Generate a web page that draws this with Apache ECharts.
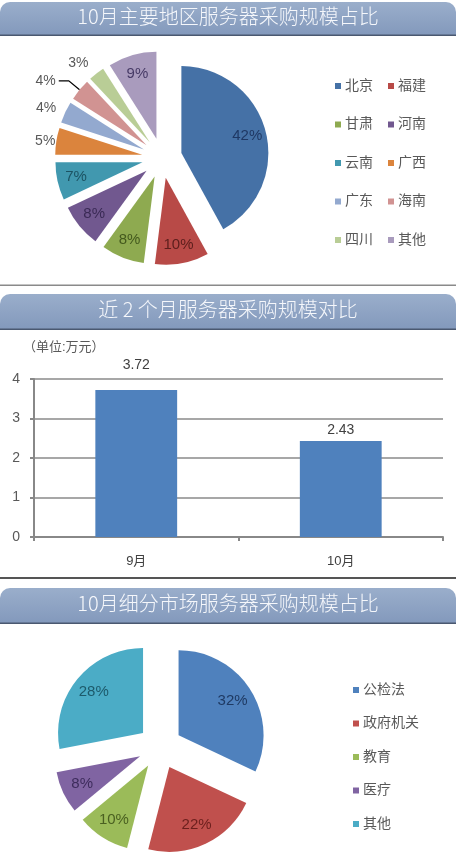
<!DOCTYPE html>
<html lang="zh-CN">
<head>
<meta charset="UTF-8">
<title>服务器采购规模</title>
<script src="https://cdn.jsdelivr.net/npm/echarts@6/dist/echarts.min.js"></script>
<style>
  html, body { margin: 0; padding: 0; background: #fff; }
  #main { width: 456px; height: 868px; }
</style>
</head>
<body>
<div id="main"></div>
<script>
  // 10月主要地区服务器采购规模占比
  const regionNames = ['北京', '福建', '甘肃', '河南', '云南', '广西', '广东', '海南', '四川', '其他'];
  const regionShares = [42, 10, 8, 8, 7, 5, 4, 4, 3, 9];
  // 近2个月服务器采购规模 (万元)
  const months = ['9月', '10月'];
  const monthSpend = [3.72, 2.43];
  // 10月细分市场服务器采购规模占比
  const marketNames = ['公检法', '政府机关', '教育', '医疗', '其他'];
  const marketShares = [32, 22, 10, 8, 28];

  const regionColors = ['#4571A6', '#B84A47', '#8EAA50', '#71588F', '#4198AF', '#DB843D', '#93A9CF', '#D19392', '#B9CD96', '#A99BBD'];
  const regionLabelColors = ['#1F3864', '#5C1E1C', '#445A1E', '#3A2A55', '#1C5363', '#595959', '#595959', '#595959', '#595959', '#463A66'];
  const marketColors = ['#4F81BD', '#C0504D', '#9BBB59', '#8064A2', '#4BACC6'];
  const marketLabelColors = ['#1F3A63', '#6B1F1D', '#4A6021', '#3D2C5C', '#1D5A6B'];

  // small slices: label outside -> [line length, length2, show line]
  const outsideLabels = {
    '广西': [1, 0, false],
    '广东': [10, 0, false],
    '海南': [14, 10, true],
    '四川': [13, 0, false]
  };

  const FONT = "'Liberation Sans', 'Noto Sans CJK SC', sans-serif";
  const TITLE_FONT = "'Noto Sans CJK SC', sans-serif";
  const grey = '#595959';

  function header(y, h) {
    return [
      {
        type: 'rect', shape: { x: 0, y: y, width: 456, height: h, r: [10, 10, 0, 0] },
        style: { fill: new echarts.graphic.LinearGradient(0, 0, 0, 1, [
          { offset: 0, color: '#9AAECB' }, { offset: 1, color: '#8399BC' }]) },
        z: 0
      },
      { type: 'rect', shape: { x: 0, y: y + h - 0.5, width: 456, height: 1.5 }, style: { fill: '#4A5870' } }
    ];
  }

  function titleAt(text, top) {
    return { text: text, left: 'center', top: top, padding: 0,
      textStyle: { color: '#F5F7FB', fontSize: 20, fontWeight: 300, fontFamily: TITLE_FONT } };
  }

  var chart = echarts.init(document.getElementById('main'));
  var option = {
    animation: false,
    backgroundColor: '#fff',
    textStyle: { fontFamily: FONT },
    title: [
      titleAt('10月主要地区服务器采购规模占比', 6),
      titleAt('近 2 个月服务器采购规模对比', 299),
      titleAt('10月细分市场服务器采购规模占比', 593)
    ],
    graphic: [].concat(
      header(2, 33),
      header(294, 35),
      header(588, 35),
      [
        { type: 'rect', shape: { x: 0, y: 284.5, width: 456, height: 1.5 }, style: { fill: '#8A8A8A' } },
        { type: 'rect', shape: { x: 0, y: 577, width: 456, height: 2 }, style: { fill: '#555' } },
        { type: 'text', x: 23, y: 347,
          style: { text: '（单位:万元）', fill: grey, fontSize: 13, fontFamily: FONT, verticalAlign: 'middle' } }
      ]
    ),
    legend: [
      {
        orient: 'vertical', left: 335, top: 79, padding: 0, icon: 'rect', itemWidth: 6, itemHeight: 6, itemGap: 24.5,
        selectedMode: false, textStyle: { color: grey, fontSize: 14, padding: [0, 0, 0, -1] },
        data: regionNames.filter((n, i) => i % 2 === 0)
      },
      {
        orient: 'vertical', left: 388, top: 79, padding: 0, icon: 'rect', itemWidth: 6, itemHeight: 6, itemGap: 24.5,
        selectedMode: false, textStyle: { color: grey, fontSize: 14, padding: [0, 0, 0, -1] },
        data: regionNames.filter((n, i) => i % 2 === 1)
      },
      {
        orient: 'vertical', left: 353, top: 683, padding: 0, icon: 'rect', itemWidth: 6, itemHeight: 6, itemGap: 19.5,
        selectedMode: false, textStyle: { color: grey, fontSize: 14, padding: [0, 0, 0, -1] },
        data: marketNames.map((n, i) => ({ name: n, itemStyle: { color: marketColors[i] } }))
      }
    ],
    grid: { left: 34, right: 13, top: 379, height: 158 },
    xAxis: {
      type: 'category', data: months,
      axisLine: { lineStyle: { color: '#888', width: 2 } },
      axisTick: { show: true, length: 4, lineStyle: { color: '#888', width: 2 } },
      axisLabel: { color: '#404040', fontSize: 13, margin: 18 }
    },
    yAxis: {
      type: 'value', min: 0, max: 4, interval: 1,
      axisLine: { show: true, lineStyle: { color: '#888', width: 2 } },
      axisTick: { show: true, length: 4, lineStyle: { color: '#888', width: 2 } },
      splitLine: { lineStyle: { color: '#8A8A8A', width: 1.5 } },
      axisLabel: { color: grey, fontSize: 14, margin: 14 }
    },
    series: [
      {
        type: 'pie', center: [162, 158], radius: [0, 87], silent: true,
        selectedMode: 'multiple', selectedOffset: 20, avoidLabelOverlap: false,
        label: { show: false }, labelLine: { show: false },
        data: regionNames.map((n, i) => {
          const o = outsideLabels[n];
          return {
            name: n, value: regionShares[i], selected: true,
            itemStyle: { color: regionColors[i] },
            label: o ? { show: true, position: 'outside', formatter: '{c}%', color: grey, fontSize: 14,
                         distanceToLabelLine: o[1] ? 3 : 0 } : { show: false },
            labelLine: o ? { show: o[2], length: o[0], length2: o[1], lineStyle: { color: '#000', width: 1.2 } }
                         : { show: false }
          };
        })
      },
      {
        // label carrier for the inside labels of the first pie
        type: 'pie', center: [162, 158], radius: [0, 130], silent: true,
        selectedMode: 'multiple', selectedOffset: 20,
        itemStyle: { color: 'rgba(0,0,0,0)' },
        label: { position: 'inside', formatter: '{c}%', fontSize: 15 },
        labelLine: { show: false },
        data: regionNames.map((n, i) => ({
          name: n, value: regionShares[i], selected: true,
          label: outsideLabels[n] ? { show: false } : { color: regionLabelColors[i] }
        }))
      },
      {
        type: 'bar', barWidth: '40%', silent: true,
        itemStyle: { color: '#4F81BD' },
        label: { show: true, position: 'top', color: '#404040', fontSize: 14 },
        data: monthSpend.map((v, i) => ({ value: v, label: { distance: i === 0 ? 18 : 4 } }))
      },
      {
        type: 'pie', center: [160, 747], radius: [0, 85], silent: true,
        selectedMode: 'multiple', selectedOffset: 22,
        label: { show: false }, labelLine: { show: false },
        data: marketNames.map((n, i) => ({
          name: n, value: marketShares[i], selected: true, itemStyle: { color: marketColors[i] }
        }))
      },
      {
        type: 'pie', center: [160, 747], radius: [0, 122], silent: true,
        selectedMode: 'multiple', selectedOffset: 22,
        itemStyle: { color: 'rgba(0,0,0,0)' },
        label: { position: 'inside', formatter: '{c}%', fontSize: 15 },
        labelLine: { show: false },
        data: marketNames.map((n, i) => ({
          name: n, value: marketShares[i], selected: true, label: { color: marketLabelColors[i] }
        }))
      }
    ]
  };
  chart.setOption(option);
</script>
</body>
</html>
